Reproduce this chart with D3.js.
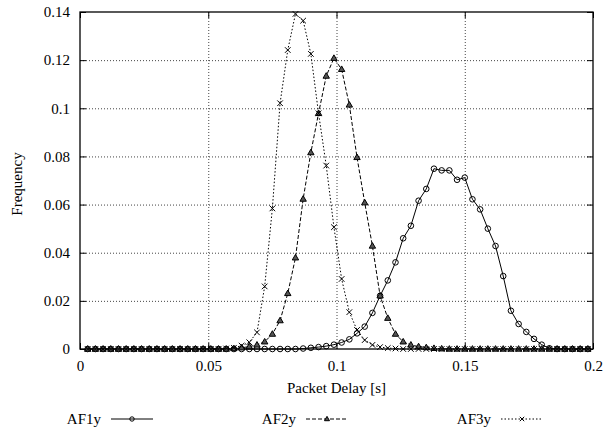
<!DOCTYPE html>
<html><head><meta charset="utf-8">
<script src="https://cdn.jsdelivr.net/npm/d3@7"></script>
<style>body{margin:0;background:#fff}svg{display:block}</style>
</head><body>
<svg id="c" width="613" height="433"></svg>
<script>
// x positions: bins of 0.003 s (index 1..66)
const binIndex = d3.range(1, 67);
const binWidth = 0.003;
const af1y = [0,0,0,0,0,0,0,0,0,0, 0,0,0,0,0,0,0,0,0,0, 0,0,0,0,0,0,0,0,
  0.0002,0.0005,0.0008,0.0012,0.0018,0.0027,0.004,0.0065,0.0093,0.015,
  0.0221,0.0285,0.036,0.046,0.0512,0.0616,0.0665,0.0749,0.0742,0.0742,
  0.0703,0.0712,0.0622,0.058,0.050,0.0428,0.0303,0.0159,0.0104,0.0071,
  0.0042,0.0018,0.0003,0,0,0,0,0];
const af2y = [0,0,0,0,0,0,0,0,0,0, 0,0,0,0,0,0,0,0,0,
  0.0002,0.0005,0.001,0.0017,0.003,0.0062,0.0118,0.0231,0.0379,0.0623,
  0.0816,0.0979,0.1134,0.1208,0.1162,0.1014,0.0796,0.0608,0.0428,0.0221,
  0.0128,0.0062,0.003,0.0017,0.001,0.0006,0.0003,0.0001,
  0,0,0,0,0,0,0,0,0,0, 0,0,0,0,0,0,0,0,0];
const af3y = [0,0,0,0,0,0,0,0,0,0, 0,0,0,0,0,0,0,0,
  0.0002,0.0005,0.0014,0.0028,0.0069,0.026,0.0584,0.1021,0.1242,0.1392,
  0.1364,0.1226,0.0979,0.0762,0.0506,0.0291,0.0153,0.0079,0.0037,0.0017,
  0.0008,0.0004,0.0002,
  0,0,0,0,0,0,0,0,0,0, 0,0,0,0,0,0,0,0,0,0, 0,0,0,0,0];
const seriesNames = ["AF1y","AF2y","AF3y"];
const xTicks = [0,0.05,0.1,0.15,0.2];
const yTicks = [0,0.02,0.04,0.06,0.08,0.1,0.12,0.14];
const xTitle = "Packet Delay [s]";
const yTitle = "Frequency";

const svg = d3.select("#c");
const L=80,R=593,T=12,B=349;
const x = d3.scaleLinear().domain([0,0.2]).range([L,R]);
const y = d3.scaleLinear().domain([0,0.14]).range([B,T]);

// grid
const g = svg.append("g");
g.selectAll(".gx").data(xTicks.slice(1,-1)).enter().append("line")
  .attr("x1",d=>x(d)+0.5).attr("x2",d=>x(d)+0.5).attr("y1",T).attr("y2",B)
  .attr("stroke","#444").attr("stroke-width",1).attr("stroke-dasharray","1,2");
g.selectAll(".gy").data(yTicks.slice(1,-1)).enter().append("line")
  .attr("y1",d=>y(d)+0.5).attr("y2",d=>y(d)+0.5).attr("x1",L).attr("x2",R)
  .attr("stroke","#444").attr("stroke-width",1).attr("stroke-dasharray","1,2");

// axes (ticks inward)
const ax = d3.axisBottom(x).tickValues(xTicks).tickFormat(d=>String(d)).tickSizeInner(-6).tickSizeOuter(0).tickPadding(11);
svg.append("g").attr("transform",`translate(0,${B})`).call(ax)
  .call(s=>s.select(".domain").remove());
svg.append("g").attr("transform",`translate(0,${T})`).call(d3.axisTop(x).tickValues(xTicks).tickFormat("").tickSizeInner(-6).tickSizeOuter(0))
  .call(s=>s.select(".domain").remove());
const ay = d3.axisLeft(y).tickValues(yTicks).tickFormat(d=>String(d)).tickSizeInner(-6).tickSizeOuter(0).tickPadding(10);
svg.append("g").attr("transform",`translate(${L},0)`).call(ay)
  .call(s=>s.select(".domain").remove());
svg.append("g").attr("transform",`translate(${R},0)`).call(d3.axisRight(y).tickValues(yTicks).tickFormat("").tickSizeInner(-6).tickSizeOuter(0))
  .call(s=>s.select(".domain").remove());
svg.selectAll(".tick line").attr("stroke","#000");
svg.append("rect").attr("x",L).attr("y",T).attr("width",R-L).attr("height",B-T)
  .attr("fill","none").attr("stroke","#000").attr("stroke-width",1.3);

// titles
svg.append("text").attr("x",(L+R)/2).attr("y",393).attr("text-anchor","middle").text(xTitle);
svg.append("text").attr("transform","translate(22,184) rotate(-90)").attr("text-anchor","middle").text(yTitle);

// series
const styles = [
  {data:af1y, dash:null, marker:"circle"},
  {data:af2y, dash:"4,2", marker:"triangle"},
  {data:af3y, dash:"1.5,2", marker:"cross"}
];
function drawMarker(sel, type, size){
  if(type==="circle"){
    sel.append("circle").attr("r",size).attr("fill","none").attr("stroke","#000").attr("stroke-width",1);
  } else if(type==="triangle"){
    const s=size*1.2;
    sel.append("path").attr("d",`M0,${-s}L${s*0.95},${s*0.65}L${-s*0.95},${s*0.65}Z`)
      .attr("fill","#555").attr("stroke","#000").attr("stroke-width",1);
  } else {
    const s=size;
    sel.append("path").attr("d",`M${-s},${-s}L${s},${s}M${-s},${s}L${s},${-s}`)
      .attr("stroke","#000").attr("stroke-width",1);
  }
}
const line = d3.line().x((d,i)=>x(binIndex[i]*binWidth)).y(d=>y(d));
styles.forEach(st=>{
  svg.append("path").datum(st.data).attr("d",line).attr("fill","none")
    .attr("stroke","#000").attr("stroke-width",1)
    .attr("stroke-dasharray",st.dash);
  svg.append("g").selectAll("g").data(st.data).enter().append("g")
    .attr("transform",(d,i)=>`translate(${x(binIndex[i]*binWidth)},${y(d)})`)
    .each(function(){drawMarker(d3.select(this),st.marker,2.8);});
});

// legend
const legendRight = [101,296,491];
seriesNames.forEach((nm,i)=>{
  const xr = legendRight[i], ly = 419;
  svg.append("text").attr("x",xr).attr("y",ly+5).attr("text-anchor","end").text(nm);
  svg.append("line").attr("x1",xr+10).attr("x2",xr+52).attr("y1",ly).attr("y2",ly)
    .attr("stroke","#000").attr("stroke-width",1).attr("stroke-dasharray",styles[i].dash);
  const m = svg.append("g").attr("transform",`translate(${xr+31},${ly})`);
  drawMarker(m, styles[i].marker, 2.2);
});

// font for all text
svg.selectAll("g").attr("font-family",null).attr("font-size",null);
svg.selectAll("text")
  .attr("font-family","Liberation Serif")
  .style("font-family",'"Liberation Serif"')
  .style("font-size","15px").attr("fill","#000");
</script>
</body></html>
